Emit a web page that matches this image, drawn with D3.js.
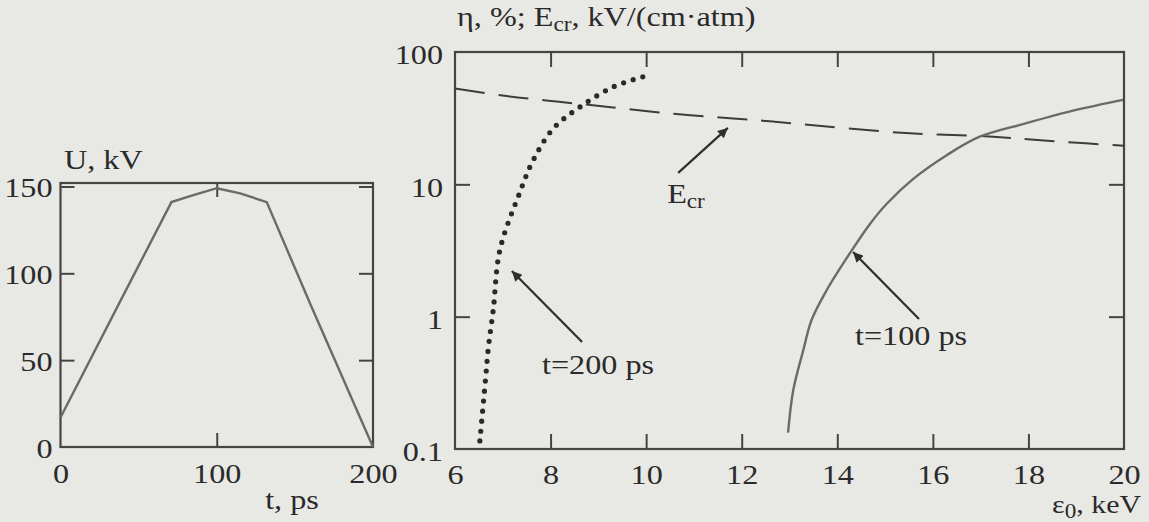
<!DOCTYPE html>
<html><head><meta charset="utf-8">
<script src="https://cdn.jsdelivr.net/npm/d3@7"></script>
<style>
html,body{margin:0;padding:0;background:#e8e8e5;}
svg{display:block;}
text{font-family:"Liberation Serif","DejaVu Serif",serif;fill:#2a2a2a;}
</style></head>
<body>
<svg id="c" width="1149" height="522"></svg>
<script>
// ---- data ----
const uTicks = [0, 50, 100, 150];
const tTicks = [0, 100, 200];
const pulseT = [0, 40, 71, 85, 100, 115, 132, 160, 200];
const pulseU = [17, 87, 141, 145, 149, 146, 141, 82, 0];

const epsTicks = [6, 8, 10, 12, 14, 16, 18, 20];
const etaTicks = [0.1, 1, 10, 100];
const ecrE = [6, 7.08, 8.13, 9.17, 10.43, 11.75, 12.66, 13.78, 15.52, 17.26, 18.66, 20];
const ecrV = [53, 46.5, 42.2, 38.6, 34.5, 31.6, 29.8, 27.3, 24.3, 22.9, 21.0, 19.6];
const eta200E = [6.52, 6.63, 6.70, 6.80, 6.94, 7.35, 7.64, 8.06, 8.62, 9.31, 10.0];
const eta200V = [0.115, 0.31, 0.59, 1.12, 3.2, 8.57, 15.3, 26.5, 38.5, 54.5, 66];
const eta100E = [12.97, 13.08, 13.29, 13.46, 13.78, 14.26, 14.68, 15.03, 15.59, 16.29, 16.98, 17.96, 19.0, 19.98];
const eta100V = [0.133, 0.28, 0.56, 0.94, 1.59, 3.0, 5.0, 7.1, 11.0, 16.6, 22.9, 29, 36.5, 43.5];

// annotations: [label, labelE, labelV, tailE, tailV, tipE, tipV]
const notes = [
  ["Ecr", 10.44, 7.23, 10.67, 12.2, 11.71, 26.7],
  ["t=200 ps", 7.82, 0.369, 8.66, 0.644, 7.19, 2.21],
  ["t=100 ps", 14.37, 0.61, 15.71, 0.96, 14.33, 3.08]
];

const svg = d3.select("#c");
const FS = 28, SX = 1.15, INK = "#2a2a2a", FRAME = "#444";
svg.append("rect").attr("width",1149).attr("height",522).attr("fill","#e8e8e5");

function txt(x, y, s, anchor){
  return svg.append("text").attr("transform",`translate(${x},${y}) scale(${SX},1)`)
    .attr("font-size",FS).attr("text-anchor",anchor||"start").text(s);
}
function styleAxis(g){
  g.attr("font-family",null);
  g.select(".domain").remove();
  g.selectAll(".tick line").attr("stroke",FRAME).attr("stroke-width",2);
  g.selectAll(".tick text").attr("font-size",FS).attr("fill",INK);
}
function scaleLabels(g){
  g.selectAll(".tick text").each(function(){
    const t = d3.select(this);
    const x = +t.attr("x") || 0;
    t.attr("x", x / SX).attr("transform",`scale(${SX},1)`);
  });
}

// ---- left panel ----
const xL = d3.scaleLinear().domain([0,200]).range([60.5,373]);
const yL = d3.scaleLinear().domain([0,152]).range([447,183]);
const TK = 14;
let g;
g = svg.append("g").attr("transform",`translate(0,${yL(0)})`)
  .call(d3.axisBottom(xL).tickValues(tTicks).tickSize(-TK).tickPadding(16));
styleAxis(g); scaleLabels(g);
g.selectAll(".tick").filter(d=>d===0||d===200).select("line").remove();
g = svg.append("g").attr("transform",`translate(0,${yL.range()[1]})`)
  .call(d3.axisTop(xL).tickValues([100]).tickSize(-TK).tickFormat(""));
styleAxis(g);
g = svg.append("g").attr("transform",`translate(${xL(0)},0)`)
  .call(d3.axisLeft(yL).tickValues(uTicks).tickSize(-TK).tickPadding(8));
styleAxis(g); g.selectAll(".tick text").attr("dy","0.36em"); scaleLabels(g);
g.selectAll(".tick").filter(d=>d===0).select("line").remove();
g = svg.append("g").attr("transform",`translate(${xL(200)},0)`)
  .call(d3.axisRight(yL).tickValues([50,100,150]).tickSize(-TK).tickFormat(""));
styleAxis(g);
svg.append("rect").attr("x",xL(0)).attr("y",yL.range()[1])
  .attr("width",xL(200)-xL(0)).attr("height",yL(0)-yL.range()[1])
  .attr("fill","none").attr("stroke",FRAME).attr("stroke-width",2.2);

svg.append("path").datum(pulseT.map((t,i)=>[t,pulseU[i]]))
  .attr("d", d3.line().x(d=>xL(d[0])).y(d=>yL(d[1])))
  .attr("fill","none").attr("stroke","#6a6a6a").attr("stroke-width",2.4);

txt(64, 169, "U, kV");
txt(292, 509, "t, ps", "middle");

// ---- right panel ----
const xR = d3.scaleLinear().domain([6,20]).range([455,1124]);
const yR = d3.scaleLog().domain([0.1,100]).range([449,52]);
const TK2 = 15;
g = svg.append("g").attr("transform",`translate(0,${yR(0.1)})`)
  .call(d3.axisBottom(xR).tickValues(epsTicks).tickSize(-TK2).tickPadding(15).tickFormat(d3.format("d")));
styleAxis(g); scaleLabels(g);
g.selectAll(".tick").filter(d=>d===6||d===20).select("line").remove();
g = svg.append("g").attr("transform",`translate(0,${yR(100)})`)
  .call(d3.axisTop(xR).tickValues(epsTicks.slice(1,-1)).tickSize(-TK2).tickFormat(""));
styleAxis(g);
g = svg.append("g").attr("transform",`translate(${xR(6)},0)`)
  .call(d3.axisLeft(yR).tickValues(etaTicks).tickSize(-TK2).tickPadding(12).tickFormat(d=>String(d)));
styleAxis(g); g.selectAll(".tick text").attr("dy","0.42em"); scaleLabels(g);
g.selectAll(".tick").filter(d=>d===0.1||d===100).select("line").remove();
g = svg.append("g").attr("transform",`translate(${xR(20)},0)`)
  .call(d3.axisRight(yR).tickValues([1,10]).tickSize(-TK2).tickFormat(""));
styleAxis(g);
svg.append("rect").attr("x",xR(6)).attr("y",yR(100))
  .attr("width",xR(20)-xR(6)).attr("height",yR(0.1)-yR(100))
  .attr("fill","none").attr("stroke",FRAME).attr("stroke-width",2.2);

const lineR = d3.line().x(d=>xR(d[0])).y(d=>yR(d[1])).curve(d3.curveCatmullRom.alpha(0.5));
svg.append("path").datum(ecrE.map((e,i)=>[e,ecrV[i]]))
  .attr("d", lineR).attr("fill","none").attr("stroke","#3c3c3c")
  .attr("stroke-width",2).attr("stroke-dasharray","30,14");
svg.append("path").datum(eta100E.map((e,i)=>[e,eta100V[i]]))
  .attr("d", lineR).attr("fill","none").attr("stroke","#6a6a6a").attr("stroke-width",2.4);
svg.append("path").datum(eta200E.map((e,i)=>[e,eta200V[i]]))
  .attr("d", lineR).attr("fill","none").attr("stroke","#2a2a2a")
  .attr("stroke-width",5.2).attr("stroke-linecap","round").attr("stroke-dasharray","0,10");

// axis titles
const tt = svg.append("text").attr("transform",`translate(457,26) scale(${SX},1)`).attr("font-size",FS);
tt.append("tspan").text("η, %; E");
tt.append("tspan").attr("font-size",FS*0.72).attr("dy",5).text("cr");
tt.append("tspan").attr("dy",-5).text(", kV/(cm·atm)");

const et = svg.append("text").attr("transform",`translate(1141,513) scale(${SX},1)`)
  .attr("font-size",FS-2).attr("text-anchor","end");
et.append("tspan").text("ε");
et.append("tspan").attr("font-size",FS*0.72).attr("dy",5).text("0");
et.append("tspan").attr("dy",-5).text(", keV");

// annotations
svg.append("defs").append("marker").attr("id","ah").attr("viewBox","0 0 10 10")
  .attr("refX",10).attr("refY",5).attr("markerWidth",13).attr("markerHeight",10)
  .attr("markerUnits","userSpaceOnUse").attr("orient","auto")
  .append("path").attr("d","M0,0L10,5L0,10Z").attr("fill","#2e2e2e");
notes.forEach(n=>{
  svg.append("line").attr("x1",xR(n[3])).attr("y1",yR(n[4]))
    .attr("x2",xR(n[5])).attr("y2",yR(n[6]))
    .attr("stroke","#2e2e2e").attr("stroke-width",2.2).attr("marker-end","url(#ah)");
  const t = svg.append("text").attr("transform",`translate(${xR(n[1])},${yR(n[2])}) scale(${SX},1)`)
    .attr("font-size",FS);
  if(n[0]==="Ecr"){
    t.append("tspan").text("E");
    t.append("tspan").attr("font-size",FS*0.72).attr("dy",5).text("cr");
  } else t.text(n[0]);
});
</script>
</body></html>
